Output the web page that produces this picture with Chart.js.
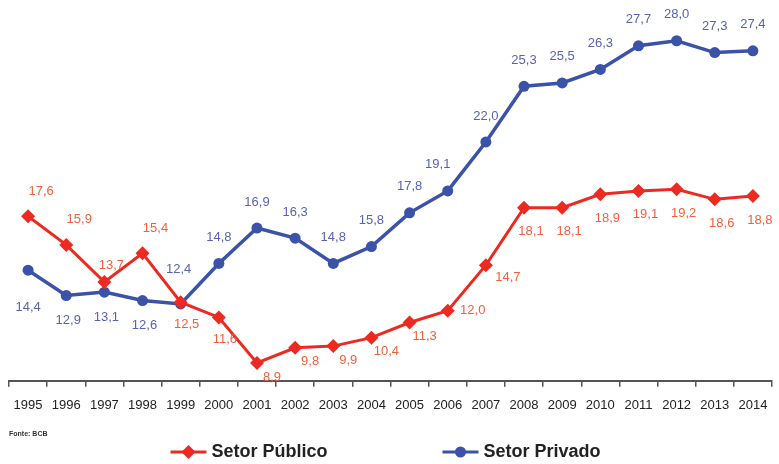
<html>
  <head>
    <script type="text/javascript" src="https://cdn.jsdelivr.net/npm/chart.js@4.4.0/dist/chart.umd.min.js"></script>
    <style>
      body { margin: 0; background: #fff; }
    </style>
  </head>
  <body>
    <canvas id="chart" width="779" height="464"></canvas>
    <script type="text/javascript">

var years = ["1995", "1996", "1997", "1998", "1999", "2000", "2001", "2002", "2003", "2004",
             "2005", "2006", "2007", "2008", "2009", "2010", "2011", "2012", "2013", "2014"]
var setor_publico = [17.6, 15.9, 13.7, 15.4, 12.5, 11.6, 8.9, 9.8, 9.9, 10.4,
                     11.3, 12.0, 14.7, 18.1, 18.1, 18.9, 19.1, 19.2, 18.6, 18.8]
var setor_privado = [14.4, 12.9, 13.1, 12.6, 12.4, 14.8, 16.9, 16.3, 14.8, 15.8,
                     17.8, 19.1, 22.0, 25.3, 25.5, 26.3, 27.7, 28.0, 27.3, 27.4]
var fonte = "Fonte: BCB"

var FONT = "'Liberation Sans', Arial, sans-serif"
var RED = "#ec2a22"
var BLUE = "#3a52a8"
var RED_TEXT = "#f0603e"
var BLUE_TEXT = "#5962b0"

function fmt(v) {
  return v.toFixed(1).replace(".", ",")
}

// where each value label sits relative to its point
function label_offset(ds, i) {
  if (ds === 0) {
    if (i === 2) return [7, -17]
    if (i <= 3) return [13, -25]
    if (i <= 5) return [6, 22]
    if (i === 11) return [25, 0]
    if (i === 12) return [22, 12]
    if (i >= 13) return [7, 24]
    return [15, 14]
  }
  if (i === 0) return [0, 37]
  if (i <= 3) return [2, 25]
  if (i === 4) return [-2, -35]
  if (i === 11) return [-10, -26]
  return [0, -26]
}

var value_labels = {
  id: "value_labels",
  afterDatasetsDraw: function(chart) {
    var ctx = chart.ctx
    ctx.save()
    ctx.font = "13px " + FONT
    ctx.textAlign = "center"
    ctx.textBaseline = "middle"
    chart.data.datasets.forEach(function(ds, d) {
      var meta = chart.getDatasetMeta(d)
      ctx.fillStyle = d === 0 ? RED_TEXT : BLUE_TEXT
      meta.data.forEach(function(pt, i) {
        var off = label_offset(d, i)
        ctx.fillText(fmt(ds.data[i]), pt.x + off[0], pt.y + off[1])
      })
    })
    ctx.restore()
  }
}

var bottom_legend = {
  id: "bottom_legend",
  afterDraw: function(chart) {
    var ctx = chart.ctx
    var y = chart.height - 12
    ctx.save()
    ctx.font = "bold 18px " + FONT
    var items = chart.data.datasets
    var line_w = 36, gap = 5, spacing = 115
    var widths = items.map(function(ds) { return ctx.measureText(ds.label).width })
    var total = line_w * 2 + gap * 2 + widths[0] + widths[1] + spacing
    var x = (chart.width - total) / 2 - 4
    items.forEach(function(ds, d) {
      ctx.strokeStyle = ds.borderColor
      ctx.lineWidth = 3
      ctx.beginPath()
      ctx.moveTo(x, y)
      ctx.lineTo(x + line_w, y)
      ctx.stroke()
      ctx.fillStyle = ds.borderColor
      var cx = x + line_w / 2
      ctx.beginPath()
      if (ds.pointStyle === "rectRot") {
        ctx.moveTo(cx, y - 7); ctx.lineTo(cx + 7, y); ctx.lineTo(cx, y + 7); ctx.lineTo(cx - 7, y)
        ctx.closePath()
      } else {
        ctx.arc(cx, y, 5.5, 0, Math.PI * 2)
      }
      ctx.fill()
      ctx.fillStyle = "#222"
      ctx.textAlign = "left"
      ctx.textBaseline = "middle"
      ctx.fillText(ds.label, x + line_w + gap, y)
      x += line_w + gap + widths[d] + spacing
    })
    ctx.restore()
  }
}

var ctx = document.getElementById("chart").getContext("2d")

var config = {
  type: "line",
  data: {
    labels: years,
    datasets: [{
      label: "Setor Público",
      data: setor_publico,
      borderColor: RED,
      backgroundColor: RED,
      borderWidth: 3,
      pointStyle: "rectRot",
      pointRadius: 7,
      pointBorderWidth: 0,
      tension: 0
    }, {
      label: "Setor Privado",
      data: setor_privado,
      borderColor: BLUE,
      backgroundColor: BLUE,
      borderWidth: 3.5,
      pointStyle: "circle",
      pointRadius: 5.5,
      pointBorderWidth: 0,
      tension: 0
    }]
  },
  options: {
    responsive: false,
    devicePixelRatio: 1,
    animation: false,
    layout: { padding: { left: 9, right: 2, top: 0, bottom: 26 } },
    plugins: {
      legend: { display: false },
      tooltip: { enabled: false }
    },
    scales: {
      y: { display: false, min: 7.85, max: 30.0 },
      x: {
        offset: true,
        border: { color: "#555", width: 2 },
        grid: { offset: true, drawOnChartArea: false, tickLength: 6, color: "#555", lineWidth: 1.5 },
        ticks: { color: "#222", font: { family: FONT, size: 13, lineHeight: 2.3 }, padding: 4, maxRotation: 0, autoSkip: false },
        title: {
          display: true, text: fonte, align: "start", color: "#333",
          font: { family: FONT, size: 7, weight: "bold" }, padding: { top: 5, bottom: 0 }
        }
      }
    }
  },
  plugins: [value_labels, bottom_legend]
}

var chart = new Chart(ctx, config)

    </script>
  </body>
</html>
